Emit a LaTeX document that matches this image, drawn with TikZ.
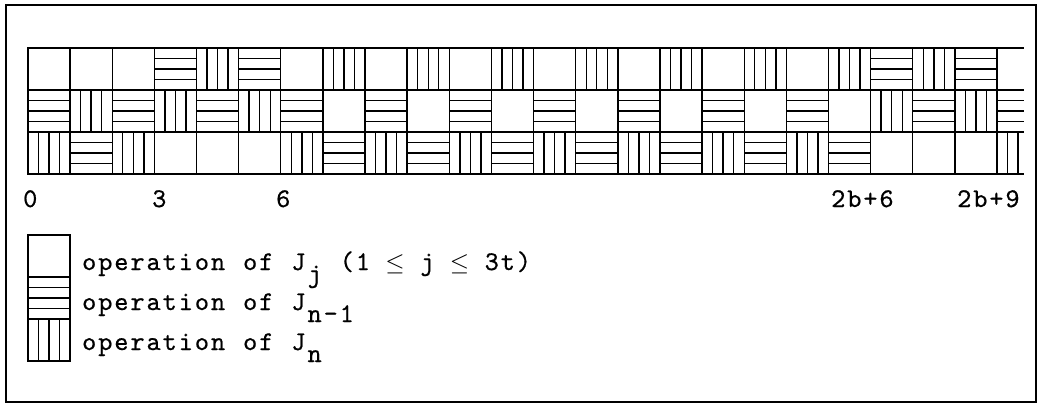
\documentclass[tikz,border=0pt]{standalone}
\usepackage{fontspec}
% typewriter face used for every text in the chart
\newfontfamily\twfont{lmmono10-regular}[Extension=.otf,FakeBold=0.6]
\newcommand\tw{\twfont\fontsize{27}{31}\selectfont}
\newcommand\lowered[1]{\raisebox{-12pt}{#1}}
% set a string on a fixed 16.1pt pitch, one cell per token
\makeatletter
\newcommand\pitched[1]{\@tfor\tch:=#1\do{\makebox[16.1pt][c]{\tch}}}
\makeatother
\newcommand\cw{42.13}
\newcommand\rh{42}
% one schedule cell: #1 = 0 idle job, 1 = J_{n-1} (horizontal), 2 = J_n (vertical)
\newcommand\opcell[3]{%
  \draw[gridline] (#2,#3) rectangle ++(\cw,\rh);
  \ifcase#1\relax
  \or
    \foreach \k in {1,2,3} \draw[gridline] (#2,#3+\k*\rh/4) -- ++(\cw,0);
  \or
    \foreach \k in {1,2,3} \draw[gridline] (#2+\k*\cw/4,#3) -- ++(0,\rh);
  \fi}
\begin{document}
\begin{tikzpicture}[x=1pt,y=-1pt,
  gridline/.style={line width=1.4pt,line cap=rect},
  frameline/.style={line width=1.7pt},
  typed/.style={inner sep=0pt,anchor=base west,font=\tw}]
\useasboundingbox (0,0) rectangle (1040,404);
\draw[frameline] (6,5) rectangle (1036,402);

% the schedule: one column per time unit, rows are the three machines
\foreach \c/\ta/\tb/\tc in {0/0/1/2, 1/0/2/1, 2/0/1/2, 3/1/2/0, 4/2/1/0, 5/1/2/0,
    6/0/1/2, 7/2/0/1, 8/0/1/2, 9/2/0/1, 10/0/1/2, 11/2/0/1, 12/0/1/2, 13/2/0/1,
    14/0/1/2, 15/2/0/1, 16/0/1/2, 17/2/0/1, 18/0/1/2, 19/2/0/1,
    20/1/2/0, 21/2/1/0, 22/1/2/0}{
  \pgfmathsetmacro\xa{28+\c*\cw}
  \opcell{\ta}{\xa}{48}
  \opcell{\tb}{\xa}{90}
  \opcell{\tc}{\xa}{132}
}
% open-ended last column
\pgfmathsetmacro\xe{28+23*\cw}
\foreach \yy in {48,90,132,174} \draw[gridline] (\xe,\yy) -- (1023,\yy);
\foreach \k in {1,2,3} \draw[gridline] (\xe,90+\k*\rh/4) -- (1023,90+\k*\rh/4);
\foreach \k in {1,2} \draw[gridline] (\xe+\k*\cw/4,132) -- (\xe+\k*\cw/4,174);

% time axis labels
\node[typed] (t0) at (22,207) {\pitched{0}};
\node[typed] (t3) at (151,207) {\pitched{3}};
\node[typed] (t6) at (275,207) {\pitched{6}};
\node[typed] (t2b6) at (830,207) {\pitched{2b+6}};
\node[typed] (t2b9) at (956,207) {\pitched{2b+9}};

% legend
\opcell{0}{28}{235}
\opcell{1}{28}{277}
\opcell{2}{28}{319}
\node[typed] (lj) at (81,270)
  {\pitched{operation~of~J{\lowered{j}}~(1~{$\le$}~j~{$\le$}~3t)}};
\node[typed] (ln1) at (81,310)
  {\pitched{operation~of~J{\lowered{n}}{\lowered{-}}{\lowered{1}}}};
\node[typed] (ln) at (81,350)
  {\pitched{operation~of~J{\lowered{n}}}};
\end{tikzpicture}
\end{document}
